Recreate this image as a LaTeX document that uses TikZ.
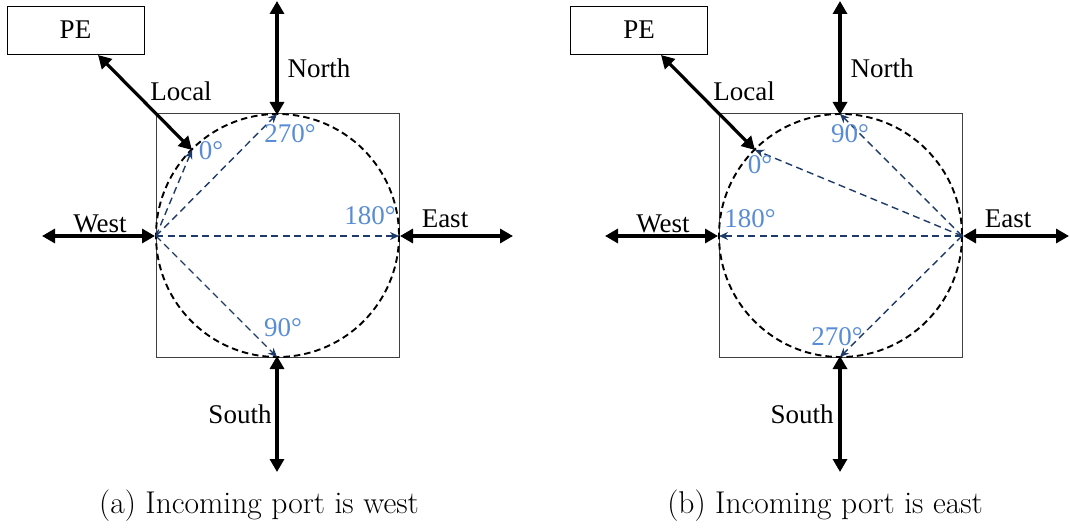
\documentclass[tikz,border=0pt]{standalone}
\usepackage{fontspec}
\newfontfamily\tnr{Liberation Serif}
\usetikzlibrary{arrows.meta}
\definecolor{lblue}{RGB}{88,140,212}
\definecolor{dblue}{RGB}{30,58,104}
\begin{document}
\begin{tikzpicture}[x=1pt,y=-1pt,
  port/.style={line width=3.2pt,{Triangle[length=13pt,width=14pt]}-{Triangle[length=13pt,width=14pt]}},
  route/.style={dblue,line width=1.4pt,dash pattern=on 7pt off 4.5pt,-{Stealth[length=9pt,width=8pt]}},
  lbl/.style={font=\tnr\fontsize{27}{30}\selectfont,inner sep=0pt},
  ang/.style={font=\tnr\fontsize{27}{30}\selectfont,inner sep=0pt,text=lblue},
  captxt/.style={font=\fontsize{31.5}{34}\selectfont,inner sep=0pt},
  pebox/.style={draw,line width=0.8pt,minimum width=137pt,minimum height=48pt,inner sep=0pt,font=\tnr\fontsize{27}{30}\selectfont},
  sq/.style={draw=black!75,line width=1pt},
  circ/.style={draw,line width=1.9pt,dash pattern=on 6.5pt off 4pt}]
\useasboundingbox (0,0) rectangle (1070,529);
% ---------- panel (a)
\draw[sq] (156,114) rectangle (399,357);
\draw[circ] (277.5,235.5) circle (121.5);
\coordinate (aW) at (156,236);
\coordinate (aE) at (399,236);
\coordinate (aN) at (277,114);
\coordinate (aS) at (277,357);
\coordinate (aL) at (192,150);
\node[pebox] (aPE) at (75.5,30) {PE};
\coordinate (aPEp) at (98,55);
\coordinate (aNo) at (277,1);
\coordinate (aWo) at (42,236);
\coordinate (aEo) at (513,236);
\coordinate (aSo) at (277,472);
\draw[port] (aPEp) -- (aL);
\draw[port] (aNo) -- ([yshift=-1pt]aN);
\draw[port] (aWo) -- ([xshift=-1pt]aW);
\draw[port] (aEo) -- ([xshift=1pt]aE);
\draw[port] (aSo) -- ([yshift=1pt]aS);
\draw[route] (aW) -- (aL);
\draw[route] (aW) -- (aN);
\draw[route] (aW) -- (aE);
\draw[route] (aW) -- (aS);
\node[lbl] (aLocal) at (181,91) {Local};
\node[lbl] (aNorth) at (319,68) {North};
\node[lbl] (aWest) at (100,224) {West};
\node[lbl] (aEast) at (445,219) {East};
\node[lbl] (aSouth) at (240,414) {South};
\node[ang] (a0) at (211,151) {0°};
\node[ang] (a270) at (290,134) {270°};
\node[ang] (a180) at (370,216) {180°};
\node[ang] (a90) at (283,328) {90°};
\node[captxt] (acap) at (259,506) {(a) Incoming port is west};
% ---------- panel (b)
\draw[sq] (719,114) rectangle (962,357);
\draw[circ] (840.5,235.5) circle (121.5);
\coordinate (bW) at (719,236);
\coordinate (bE) at (962,236);
\coordinate (bN) at (840,114);
\coordinate (bS) at (840,357);
\coordinate (bL) at (755,150);
\node[pebox] (bPE) at (639,30) {PE};
\coordinate (bPEp) at (661,55);
\coordinate (bNo) at (840,1);
\coordinate (bWo) at (605,236);
\coordinate (bEo) at (1069,236);
\coordinate (bSo) at (840,472);
\draw[port] (bPEp) -- (bL);
\draw[port] (bNo) -- ([yshift=-1pt]bN);
\draw[port] (bWo) -- ([xshift=-1pt]bW);
\draw[port] (bEo) -- ([xshift=1pt]bE);
\draw[port] (bSo) -- ([yshift=1pt]bS);
\draw[route] (bE) -- (bL);
\draw[route] (bE) -- (bN);
\draw[route] (bE) -- (bW);
\draw[route] (bE) -- (bS);
\node[lbl] (bLocal) at (744,91) {Local};
\node[lbl] (bNorth) at (882,68) {North};
\node[lbl] (bWest) at (663,224) {West};
\node[lbl] (bEast) at (1008,219) {East};
\node[lbl] (bSouth) at (802,414) {South};
\node[ang] (b0) at (760,165) {0°};
\node[ang] (b90) at (850,134) {90°};
\node[ang] (b180) at (750,219) {180°};
\node[ang] (b270) at (837,337) {270°};
\node[captxt] (bcap) at (825,506) {(b) Incoming port is east};
\end{tikzpicture}
\end{document}
